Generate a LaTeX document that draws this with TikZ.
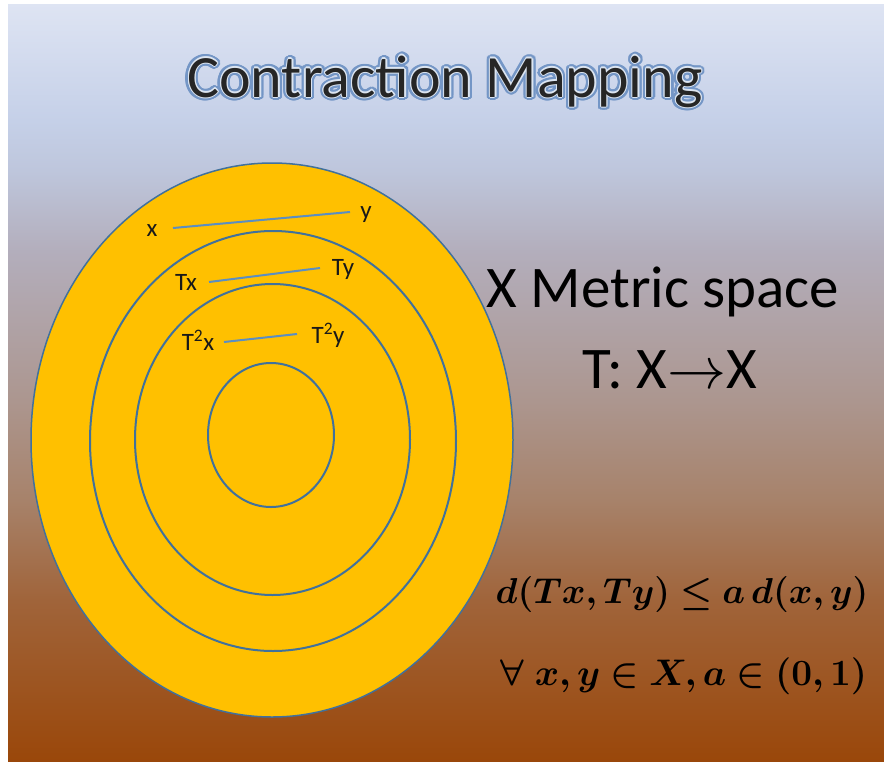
\RequirePackage{fix-cm}
\documentclass[tikz,border=0pt]{standalone}
\usepackage{amsmath}
\usepackage{bm}
\usepackage[no-math]{fontspec}
\setmainfont{Carlito}
\definecolor{ringfill}{HTML}{FFC000}
\definecolor{ringline}{HTML}{41719C}
\definecolor{segline}{HTML}{5B8EC2}
\definecolor{glowblue}{HTML}{7496C6}
\definecolor{bga}{HTML}{DEE4F3}
\definecolor{bgb}{HTML}{C5D0E8}
\definecolor{bgc}{HTML}{BEC6DC}
\definecolor{bgd}{HTML}{B3AEBC}
\definecolor{bge}{HTML}{AC968F}
\definecolor{bgf}{HTML}{A7826A}
\definecolor{bgg}{HTML}{A0643A}
\definecolor{bgh}{HTML}{9A470A}
\pgfdeclareverticalshading{bgshade}{100bp}{color(0bp)=(bgh); color(25bp)=(bgh); color(35.6bp)=(bgg); color(42.2bp)=(bgf); color(48.8bp)=(bge); color(58.7bp)=(bgd); color(64bp)=(bgc); color(67.3bp)=(bgb); color(75bp)=(bga); color(100bp)=(bga)}
\newcommand\contractineq{\ensuremath{\bm{d(Tx,Ty)\leq a\,d(x,y)}}}
\newcommand\contractquant{\ensuremath{\bm{\forall\;x,y\in X, a\in(0,1)}}}
\newcommand\contractmap{T: X\ensuremath{\rightarrow}X}
\tikzset{
  ring/.style={draw=ringline, line width=2pt},
  seg/.style={draw=segline, line width=2pt},
  ptlabel/.style={inner sep=0pt, text=black!90, font=\fontsize{25}{27}\selectfont},
  bigtext/.style={inner sep=0pt, anchor=base, font=\fontsize{59}{62}\selectfont},
  mathtext/.style={inner sep=0pt, anchor=base, font=\fontsize{36}{40}\selectfont},
  titletext/.style={inner sep=0pt, anchor=base, font=\fontsize{60}{64}\selectfont},
}
\begin{document}
\begin{tikzpicture}[x=1pt, y=-1pt]
\useasboundingbox (0,0) rectangle (884,761);
\fill[white] (0,0) rectangle (884,761);
\shade[shading=bgshade] (8,4) rectangle (884,761);
% title with glow
\foreach \a in {0,20,...,340} {
  \node[titletext, text=glowblue, shift={(\a:3.4pt)}] (glow-\a) at (445,97) {Contraction Mapping};
}
\foreach \a in {0,45,...,315} {
  \node[titletext, text=white!75!glowblue, shift={(\a:1.2pt)}] (edge-\a) at (445,97) {Contraction Mapping};
}
\node[titletext, text=black!85] (title) at (445,97) {Contraction Mapping};
% concentric rings
\fill[ringfill] (272,440) ellipse [x radius=241pt, y radius=277pt];
\draw[ring, line width=1.5pt] (272,440) ellipse [x radius=241pt, y radius=277pt];
\draw[ring] (273,441) ellipse [x radius=183pt, y radius=210pt];
\draw[ring] (272.5,439.5) ellipse [x radius=137.5pt, y radius=155.5pt];
\draw[ring] (271,435) ellipse [x radius=63pt, y radius=72pt];
% point labels
\node[ptlabel] (lx) at (152,231) {x};
\node[ptlabel] (ly) at (366,215) {y};
\node[ptlabel] (ltx) at (186,282) {Tx};
\node[ptlabel] (lty) at (343,269) {Ty};
\node[ptlabel] (lttx) at (198,340) {T\textsuperscript{2}x};
\node[ptlabel] (ltty) at (328,335) {T\textsuperscript{2}y};
\coordinate (sx1) at (173,228); \coordinate (sy1) at (350,212);
\coordinate (sx2) at (209,282); \coordinate (sy2) at (320,268);
\coordinate (sx3) at (224,342); \coordinate (sy3) at (297,334);
\draw[seg] (sx1) -- (sy1);
\draw[seg] (sx2) -- (sy2);
\draw[seg] (sx3) -- (sy3);
% right texts
\node[bigtext] (metric) at (663,307) {X Metric space};
\node[bigtext] (map) at (670,388) {\contractmap};
\node[mathtext] (ineq) at (682,603) {\contractineq};
\node[mathtext, font=\fontsize{37}{40}\selectfont] (forall) at (684,685) {\contractquant};
\end{tikzpicture}
\end{document}
